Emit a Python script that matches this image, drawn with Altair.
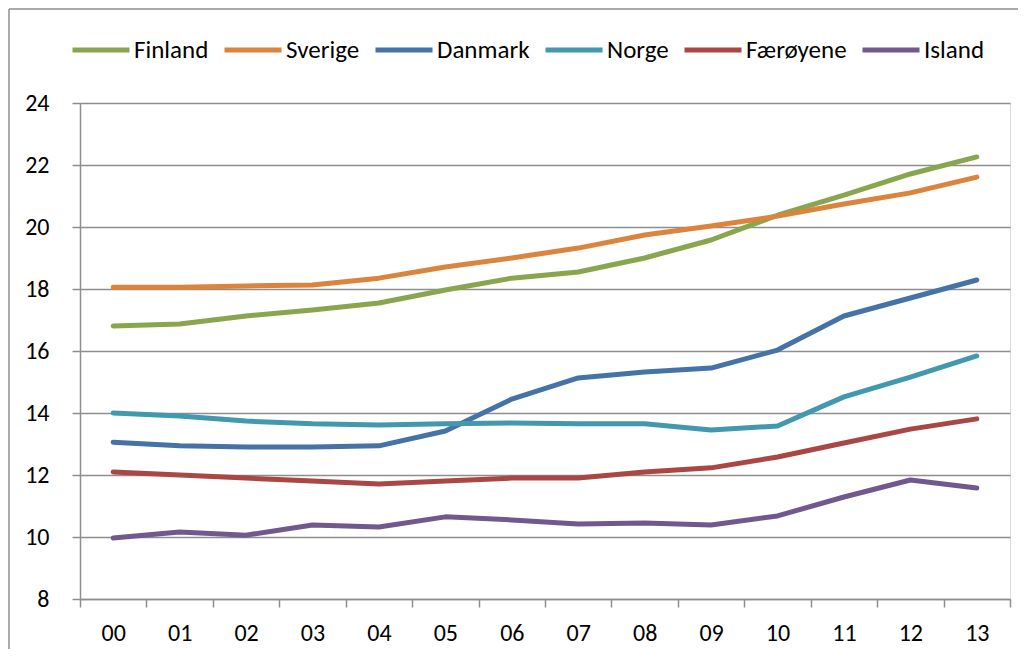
import altair as alt
import pandas as pd

years = ["00", "01", "02", "03", "04", "05", "06", "07", "08", "09", "10", "11", "12", "13"]
countries = ["Finland", "Sverige", "Danmark", "Norge", "Færøyene", "Island"]
colors = ["#89A54E", "#DB843D", "#4572A7", "#4198AF", "#AA4643", "#71588F"]

finland = [16.81, 16.87, 17.13, 17.32, 17.55, 17.97, 18.35, 18.55, 19.0, 19.58, 20.38, 21.03, 21.71, 22.26]
sverige = [18.06, 18.06, 18.1, 18.13, 18.35, 18.71, 19.0, 19.32, 19.74, 20.03, 20.35, 20.74, 21.1, 21.61]
danmark = [13.06, 12.94, 12.9, 12.9, 12.94, 13.42, 14.45, 15.13, 15.32, 15.45, 16.03, 17.13, 17.71, 18.29]
norge = [14.0, 13.9, 13.74, 13.65, 13.61, 13.65, 13.68, 13.65, 13.65, 13.45, 13.58, 14.52, 15.16, 15.84]
faeroyene = [12.1, 12.0, 11.9, 11.81, 11.71, 11.81, 11.9, 11.9, 12.1, 12.23, 12.58, 13.03, 13.48, 13.81]
island = [9.97, 10.16, 10.06, 10.39, 10.32, 10.65, 10.55, 10.42, 10.45, 10.39, 10.68, 11.29, 11.84, 11.58]

y_ticks = [8, 10, 12, 14, 16, 18, 20, 22, 24]

series = [finland, sverige, danmark, norge, faeroyene, island]
rows = []
for name, vals in zip(countries, series):
    for yr, v in zip(years, vals):
        rows.append({"year": yr, "country": name, "value": v})
df = pd.DataFrame(rows)

FONT = "Carlito, Lato, sans-serif"
GRID = "#8E8E8E"

lines = alt.Chart(df).mark_line(strokeWidth=5, strokeCap="round", strokeJoin="round").encode(
    x=alt.X("year:O", sort=years, bandPosition=0.5,
            scale=alt.Scale(type="band", paddingInner=0, paddingOuter=0),
            axis=alt.Axis(title=None, tickBand="extent", labelAngle=0, grid=False,
                          domainColor=GRID, domainWidth=1.5, tickColor=GRID, tickWidth=1.5,
                          tickSize=8, labelPadding=14, labelFontSize=24, labelColor="#000000",
                          labelFont=FONT)),
    y=alt.Y("value:Q", scale=alt.Scale(domain=[8, 24], nice=False, zero=False),
            axis=alt.Axis(title=None, values=y_ticks, grid=True, gridColor=GRID, gridWidth=1.5,
                          domainColor=GRID, domainWidth=1.5, tickColor=GRID, tickWidth=1.5,
                          tickSize=8, labelPadding=23, labelFontSize=24, labelColor="#000000",
                          labelFont=FONT)),
    color=alt.Color("country:N", sort=countries,
                    scale=alt.Scale(domain=countries, range=colors),
                    legend=alt.Legend(title=None, orient="none", direction="horizontal",
                                      legendX=-10, legendY=-84, symbolType="stroke",
                                      symbolSize=3249, symbolStrokeWidth=5,
                                      labelFontSize=25, labelFont=FONT, labelColor="#000000",
                                      labelOffset=2, columnPadding=5, padding=0)),
)

one = pd.DataFrame({"a": [1]})
top_border = alt.Chart(one).mark_rule(stroke=GRID, strokeWidth=1.5, clip=False).encode(
    x=alt.value(-71), x2=alt.value(938), y=alt.value(-94)
)
left_border = alt.Chart(one).mark_rule(stroke=GRID, strokeWidth=1.5, clip=False).encode(
    x=alt.value(-71), y=alt.value(-94), y2=alt.value(600)
)

chart = alt.layer(top_border, left_border, lines).properties(
    width=930, height=496,
    autosize="none",
    padding={"left": 72, "top": 95, "right": 8, "bottom": 50},
).configure_view(stroke=None).configure(background="white")

chart.save("out.html", embed_options={"renderer": "svg", "actions": False})
